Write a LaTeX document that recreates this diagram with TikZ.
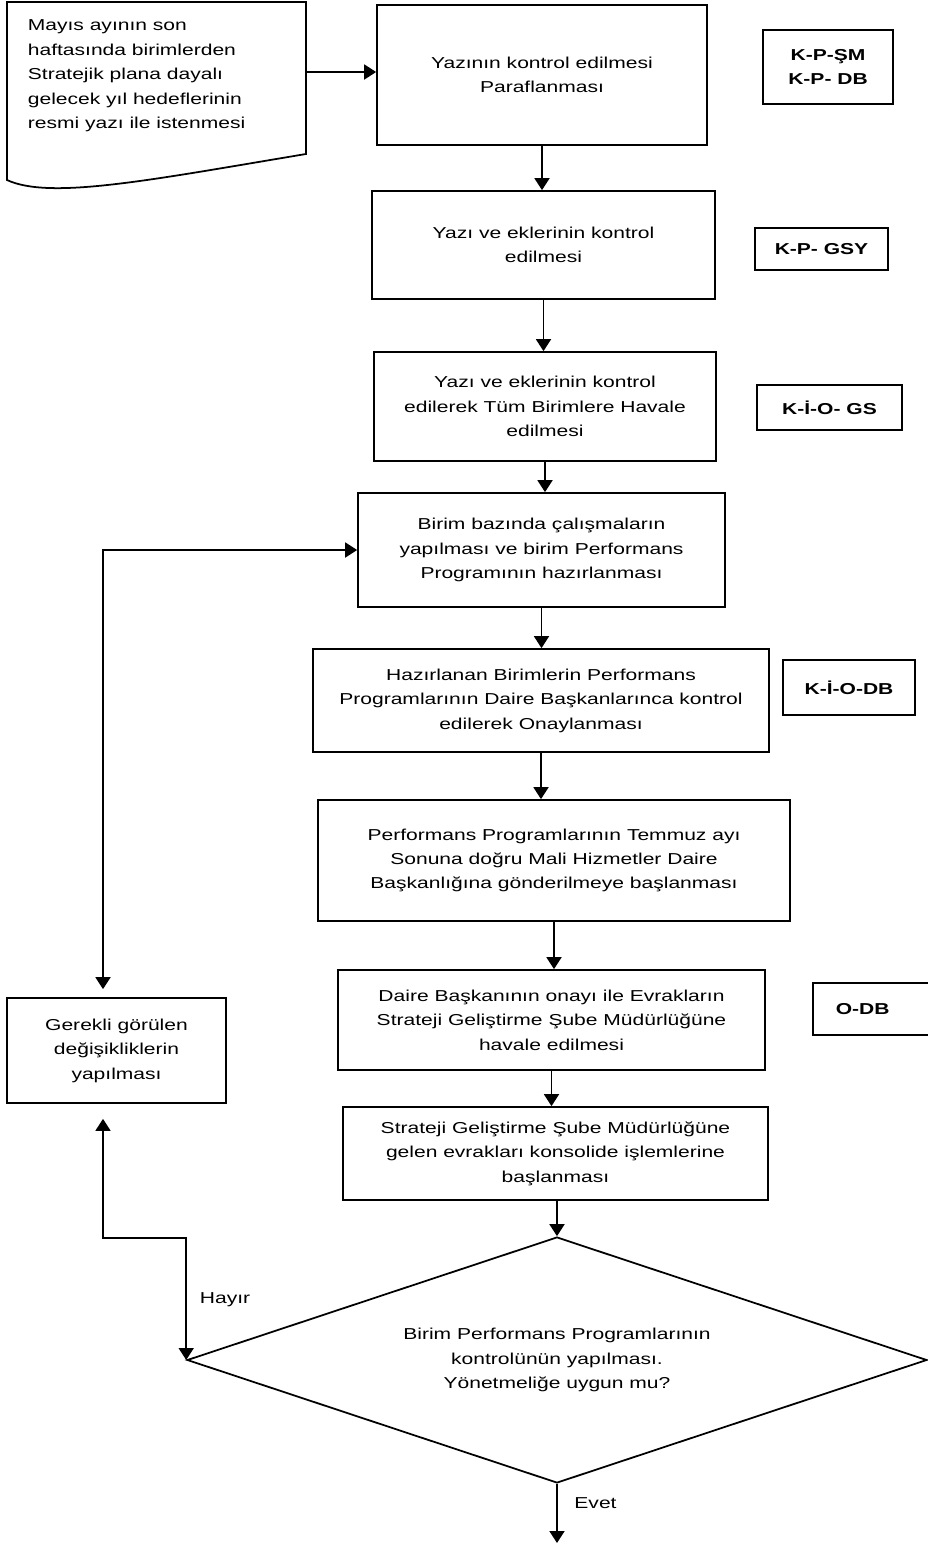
\documentclass[tikz,border=0pt]{standalone}
\usepackage{fontspec}
\setmainfont[FakeStretch=1.33]{Liberation Sans}
\usetikzlibrary{arrows.meta,shapes.geometric}
\begin{document}
\begin{tikzpicture}[x=0.02cm, y=-0.02cm, line width=1pt,
		font=\fontsize{9}{13.9}\selectfont,
		>={Triangle[length=6.8pt,width=8.5pt]},
		kutu/.style={draw, align=center, inner sep=0pt},
		etiket/.style={draw, align=center, inner sep=0pt, font=\fontsize{9}{13.9}\selectfont\bfseries},
		karar/.style={draw, diamond, aspect=3, align=center, inner sep=0pt}]
			\useasboundingbox (0,0) rectangle (928,1543);
			
			\draw (7,180) -- (7,2) -- (306,2) -- (306,154) .. controls (150,180) and (50,200) .. (7,180) -- cycle;
			\node[align=left, anchor=west, inner sep=0pt] (talep) at (27,76) {Mayıs ayının son\\haftasında birimlerden\\Stratejik plana dayalı\\gelecek yıl hedeflerinin\\resmi yazı ile istenmesi};
			\coordinate (talepR) at (306,72);
			
			\node[kutu, minimum width=6.6cm, minimum height=2.8cm] (yazi) at (542,75) {Yazının kontrol edilmesi\\Paraflanması};
			\node[kutu, minimum width=6.86cm, minimum height=2.16cm] (ek) at (543.5,245) {Yazı ve eklerinin kontrol\\edilmesi};
			\node[kutu, minimum width=6.84cm, minimum height=2.18cm] (havale) at (545,406.5) {Yazı ve eklerinin kontrol\\edilerek Tüm Birimlere Havale\\edilmesi};
			\node[kutu, minimum width=7.34cm, minimum height=2.28cm] (birim) at (541.5,550) {Birim bazında çalışmaların\\yapılması ve birim Performans\\Programının hazırlanması};
			\node[kutu, minimum width=9.12cm, minimum height=2.06cm] (onay) at (541,700.5) {Hazırlanan Birimlerin Performans\\Programlarının Daire Başkanlarınca kontrol\\edilerek Onaylanması};
			\node[kutu, minimum width=9.44cm, minimum height=2.42cm] (gonder) at (554,860.5) {Performans Programlarının Temmuz ayı\\Sonuna doğru Mali Hizmetler Daire\\Başkanlığına gönderilmeye başlanması};
			\node[kutu, minimum width=8.54cm, minimum height=2.0cm] (evrak) at (551.5,1020) {Daire Başkanının onayı ile Evrakların\\Strateji Geliştirme Şube Müdürlüğüne\\havale edilmesi};
			\node[kutu, minimum width=8.5cm, minimum height=1.86cm] (konsol) at (555.5,1153.5) {Strateji Geliştirme Şube Müdürlüğüne\\gelen evrakları konsolide işlemlerine\\başlanması};
			\node[karar, minimum width=14.8cm, minimum height=4.92cm] (kontrol) at (557,1360) {Birim Performans Programlarının\\kontrolünün yapılması.\\Yönetmeliğe uygun mu?};
			\node[kutu, minimum width=4.38cm, minimum height=2.1cm] (geri) at (116.5,1050.5) {Gerekli görülen\\değişikliklerin\\yapılması};
			
			\node[etiket, minimum width=2.6cm, minimum height=1.48cm] (e1) at (828,67) {K-P-ŞM\\K-P- DB};
			\node[etiket, minimum width=2.66cm, minimum height=0.84cm] (e2) at (821.5,249) {K-P- GSY};
			\node[etiket, minimum width=2.9cm, minimum height=0.9cm] (e3) at (829.5,407.5) {K-İ-O- GS};
			\node[etiket, minimum width=2.64cm, minimum height=1.1cm] (e4) at (849,687.5) {K-İ-O-DB};
			\node[etiket, anchor=west, align=left, text width=2.1cm, inner xsep=0.46cm, minimum height=1.04cm] (e5) at (812,1009) {O-DB};
			
			\draw[->] (talepR) -- (talepR -| yazi.west);
			\draw[->] (yazi.south) -- (yazi.south |- ek.north);
			\draw[->] (ek.south) -- (ek.south |- havale.north);
			\draw[->] (havale.south) -- (havale.south |- birim.north);
			\draw[->] (birim.south) -- (birim.south |- onay.north);
			\draw[->] (onay.south) -- (onay.south |- gonder.north);
			\draw[->] (gonder.south) -- (gonder.south |- evrak.north);
			\draw[->] (evrak.south) -- (evrak.south |- konsol.north);
			\draw[->] (konsol.south -| kontrol.north) -- (kontrol.north);
			
			\draw[<->] ([xshift=-0.27cm, yshift=0.16cm]geri.north) |- (birim.west);
			\draw[<->] ([xshift=-0.27cm, yshift=-0.3cm]geri.south) |- (kontrol.west |- 0,1238) -- (kontrol.west);
			\node (hayir) at (225,1300) {Hayır};
			
			\coordinate (son) at (557,1543);
			\draw[->] (kontrol.south) -- (son);
			\node (evet) at (595.5,1503) {Evet};
		\end{tikzpicture}
\end{document}
